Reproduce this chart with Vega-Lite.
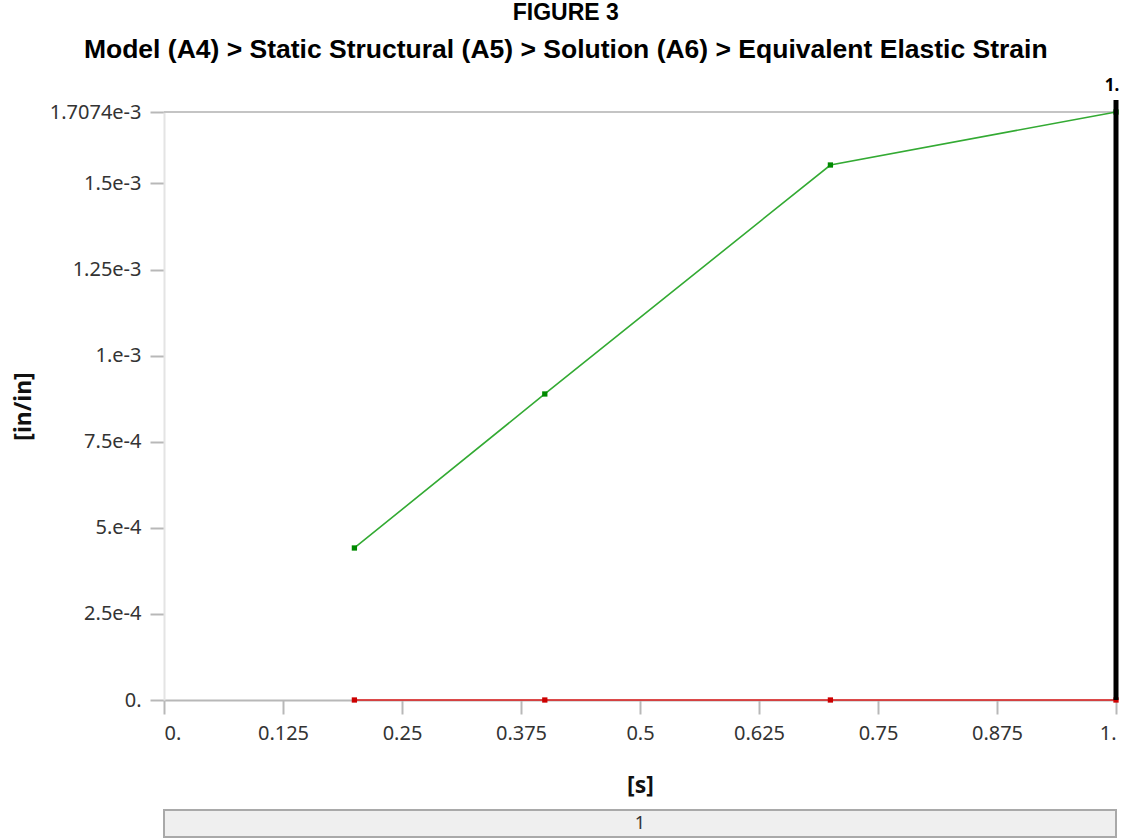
{
  "$schema": "https://vega.github.io/schema/vega-lite/v6.json",
  "background": "white",
  "padding": {"left": 12, "top": 1, "right": 4, "bottom": 1},
  "title": {
    "text": "FIGURE 3",
    "subtitle": "Model (A4) > Static Structural (A5) > Solution (A6) > Equivalent Elastic Strain",
    "font": "Liberation Sans",
    "fontSize": 23,
    "fontWeight": "bold",
    "color": "#000000",
    "subtitleFont": "Liberation Sans",
    "subtitleFontSize": 26.5,
    "subtitleFontWeight": "bold",
    "subtitleColor": "#000000",
    "subtitlePadding": 12,
    "anchor": "middle",
    "offset": 14
  },
  "datasets": {
    "strain": [
      {"time": 0.2, "series": "Maximum", "strain": 0.0004414},
      {"time": 0.4, "series": "Maximum", "strain": 0.0008886},
      {"time": 0.7, "series": "Maximum", "strain": 0.0015535},
      {"time": 1.0, "series": "Maximum", "strain": 0.0017074},
      {"time": 0.2, "series": "Minimum", "strain": 0},
      {"time": 0.4, "series": "Minimum", "strain": 0},
      {"time": 0.7, "series": "Minimum", "strain": 0},
      {"time": 1.0, "series": "Minimum", "strain": 0}
    ],
    "steps": [
      {"step": "1"}
    ]
  },
  "vconcat": [
    {
      "width": 952,
      "height": 588,
      "layer": [
        {
          "data": {"values": [{}]},
          "mark": {"type": "rule", "color": "#c4c4c4", "strokeWidth": 2},
          "encoding": {
            "y": {"datum": 0.0017074, "type": "quantitative"}
          }
        },
        {
          "data": {"name": "strain"},
          "mark": {"type": "line", "strokeWidth": 1.6},
          "encoding": {
            "x": {
              "field": "time",
              "type": "quantitative",
              "scale": {"domain": [0, 1], "nice": false, "zero": false},
              "axis": {
                "values": [0, 0.125, 0.25, 0.375, 0.5, 0.625, 0.75, 0.875, 1],
                "labelExpr": "datum.value == 0 ? '0.' : datum.value == 1 ? '1.' : format(datum.value, '~g')",
                "title": "[s]",
                "titlePadding": 31
              }
            },
            "y": {
              "field": "strain",
              "type": "quantitative",
              "scale": {"domain": [0, 0.0017074], "nice": false, "zero": true},
              "axis": {
                "values": [0, 0.00025, 0.0005, 0.00075, 0.001, 0.00125, 0.0015, 0.0017074],
                "labelExpr": "datum.value < 1e-9 ? '0.' : abs(datum.value - 0.0005) < 1e-9 ? '5.e-4' : abs(datum.value - 0.001) < 1e-9 ? '1.e-3' : format(datum.value, '~e')",
                "title": "[in/in]",
                "titlePadding": 14,
                "domainColor": "#e4e4e4"
              }
            },
            "color": {
              "field": "series",
              "type": "nominal",
              "scale": {"domain": ["Maximum", "Minimum"], "range": ["#33aa33", "#dd1a1a"]},
              "legend": null
            }
          }
        },
        {
          "data": {"name": "strain"},
          "mark": {"type": "point", "shape": "square", "filled": true, "size": 28, "opacity": 1},
          "encoding": {
            "x": {"field": "time", "type": "quantitative"},
            "y": {"field": "strain", "type": "quantitative"},
            "color": {
              "field": "series",
              "type": "nominal",
              "scale": {"domain": ["Maximum", "Minimum"], "range": ["#33aa33", "#dd1a1a"]},
              "legend": null
            },
            "fill": {
              "field": "series",
              "type": "nominal",
              "scale": {"domain": ["Maximum", "Minimum"], "range": ["#008a00", "#cc0000"]},
              "legend": null
            }
          }
        },
        {
          "data": {"values": [{}]},
          "mark": {"type": "rule", "color": "#000000", "strokeWidth": 5, "clip": false},
          "encoding": {
            "x": {"datum": 1, "type": "quantitative"},
            "y": {"datum": 0, "type": "quantitative"},
            "y2": {"datum": 0.001742}
          }
        },
        {
          "data": {"values": [{}]},
          "mark": {"type": "text", "text": "1.", "font": "Noto Sans", "fontSize": 17, "fontWeight": "bold", "color": "#000000", "align": "center", "baseline": "bottom", "dx": -4, "dy": -17},
          "encoding": {
            "x": {"datum": 1, "type": "quantitative"},
            "y": {"datum": 0.0017074, "type": "quantitative"}
          }
        }
      ]
    },
    {
      "width": 952,
      "height": 27,
      "data": {"name": "steps"},
      "layer": [
        {
          "mark": {"type": "rect", "fill": "#efefef", "stroke": "#a9a9a9", "strokeWidth": 2},
          "encoding": {
            "x": {"field": "step", "type": "nominal", "axis": null, "scale": {"paddingInner": 0, "paddingOuter": 0}}
          }
        },
        {
          "mark": {"type": "text", "font": "Noto Sans", "fontSize": 18, "color": "#333333"},
          "encoding": {
            "x": {"field": "step", "type": "nominal", "axis": null, "scale": {"paddingInner": 0, "paddingOuter": 0}},
            "text": {"field": "step"}
          }
        }
      ]
    }
  ],
  "spacing": 12,
  "config": {
    "view": {"stroke": null},
    "axis": {
      "grid": false,
      "labelFont": "Noto Sans",
      "labelFontSize": 20,
      "labelColor": "#333333",
      "labelPadding": 9,
      "tickSize": 14,
      "tickColor": "#b8b8b8",
      "tickWidth": 2,
      "domainColor": "#b8b8b8",
      "domainWidth": 2,
      "titleFont": "Noto Sans",
      "titleFontSize": 23,
      "titleFontWeight": "bold",
      "titleColor": "#111111"
    }
  }
}
